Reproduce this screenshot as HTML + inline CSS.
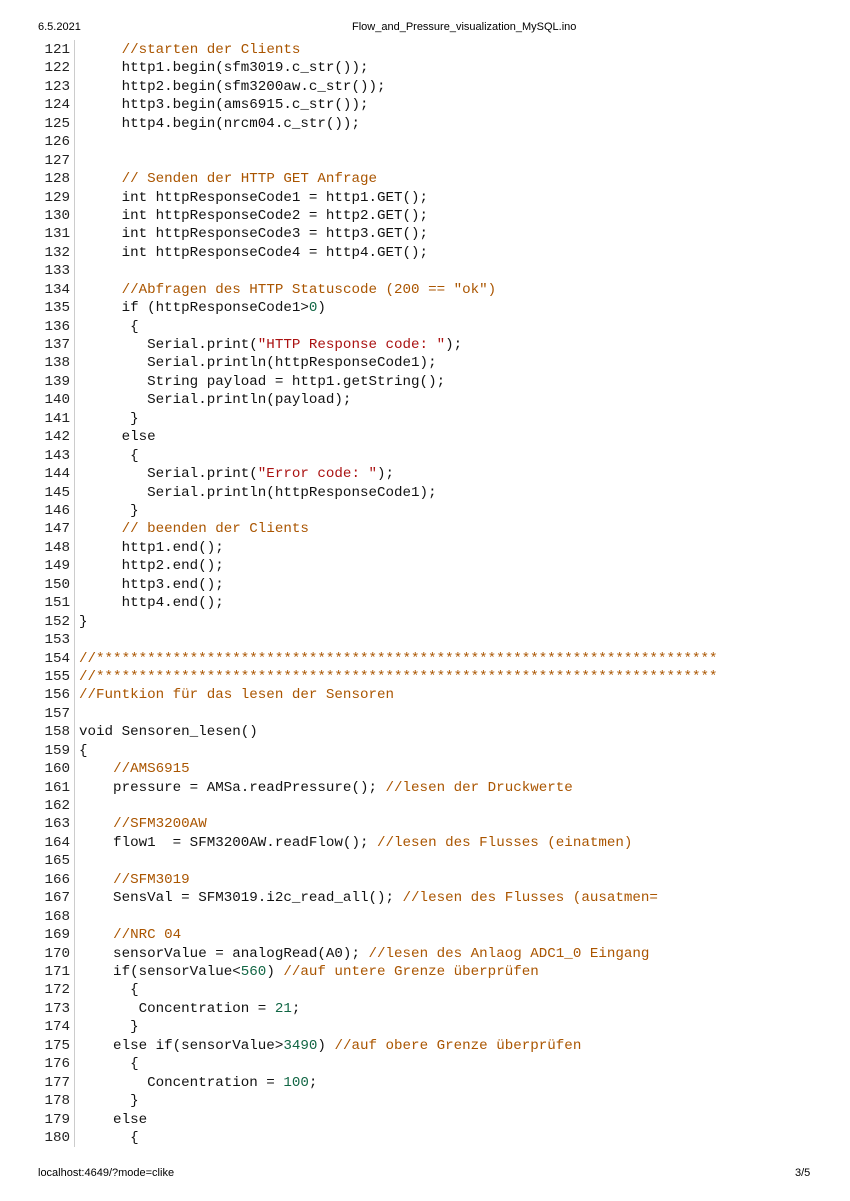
<!DOCTYPE html>
<html><head><meta charset="utf-8"><style>
body{margin:0;width:850px;height:1201px;background:#fff;position:relative;overflow:hidden}
.h{position:absolute;font:11px "Liberation Sans",sans-serif;color:#000}
.code{position:absolute;left:0;top:41px;font:14.2px/18.44px "Liberation Mono",monospace;color:#111;white-space:pre}
.ln{position:absolute;left:0;width:70px;text-align:right;color:#222}
.tx{position:absolute;left:79px}
.g{position:absolute;left:74px;top:40px;width:1px;height:1107px;background:#ccc}
.c{color:#aa5500}.s{color:#a11}.n{color:#116644}
</style></head><body>
<div class="h" style="left:38px;top:21px">6.5.2021</div>
<div class="h" style="left:352px;top:21px">Flow_and_Pressure_visualization_MySQL.ino</div>
<div class="h" style="left:38px;top:1167px">localhost:4649/?mode=clike</div>
<div class="h" style="left:795px;top:1167px">3/5</div>
<div class="g"></div>
<div class="code" id="c"></div>
<script>
const L=[
'     <span class="c">//starten der Clients</span>',
'     http1.begin(sfm3019.c_str());',
'     http2.begin(sfm3200aw.c_str());',
'     http3.begin(ams6915.c_str());',
'     http4.begin(nrcm04.c_str());',
'','',
'     <span class="c">// Senden der HTTP GET Anfrage</span>',
'     int httpResponseCode1 = http1.GET();',
'     int httpResponseCode2 = http2.GET();',
'     int httpResponseCode3 = http3.GET();',
'     int httpResponseCode4 = http4.GET();',
'',
'     <span class="c">//Abfragen des HTTP Statuscode (200 == "ok")</span>',
'     if (httpResponseCode1&gt;<span class="n">0</span>)',
'      {',
'        Serial.print(<span class="s">"HTTP Response code: "</span>);',
'        Serial.println(httpResponseCode1);',
'        String payload = http1.getString();',
'        Serial.println(payload);',
'      }',
'     else',
'      {',
'        Serial.print(<span class="s">"Error code: "</span>);',
'        Serial.println(httpResponseCode1);',
'      }',
'     <span class="c">// beenden der Clients</span>',
'     http1.end();',
'     http2.end();',
'     http3.end();',
'     http4.end();',
'}',
'',
'<span class="c">//*************************************************************************</span>',
'<span class="c">//*************************************************************************</span>',
'<span class="c">//Funtkion für das lesen der Sensoren</span>',
'',
'void Sensoren_lesen()',
'{',
'    <span class="c">//AMS6915</span>',
'    pressure = AMSa.readPressure(); <span class="c">//lesen der Druckwerte</span>',
'',
'    <span class="c">//SFM3200AW</span>',
'    flow1  = SFM3200AW.readFlow(); <span class="c">//lesen des Flusses (einatmen)</span>',
'',
'    <span class="c">//SFM3019</span>',
'    SensVal = SFM3019.i2c_read_all(); <span class="c">//lesen des Flusses (ausatmen=</span>',
'',
'    <span class="c">//NRC 04</span>',
'    sensorValue = analogRead(A0); <span class="c">//lesen des Anlaog ADC1_0 Eingang</span>',
'    if(sensorValue&lt;<span class="n">560</span>) <span class="c">//auf untere Grenze überprüfen</span>',
'      {',
'       Concentration = <span class="n">21</span>;',
'      }',
'    else if(sensorValue&gt;<span class="n">3490</span>) <span class="c">//auf obere Grenze überprüfen</span>',
'      {',
'        Concentration = <span class="n">100</span>;',
'      }',
'    else',
'      {'];
let h='';L.forEach((t,i)=>{const y=i*18.44;h+=`<div class="ln" style="top:${y}px">${121+i}</div><div class="tx" style="top:${y}px">${t}</div>`});
document.getElementById('c').innerHTML=h;
</script>
</body></html>
